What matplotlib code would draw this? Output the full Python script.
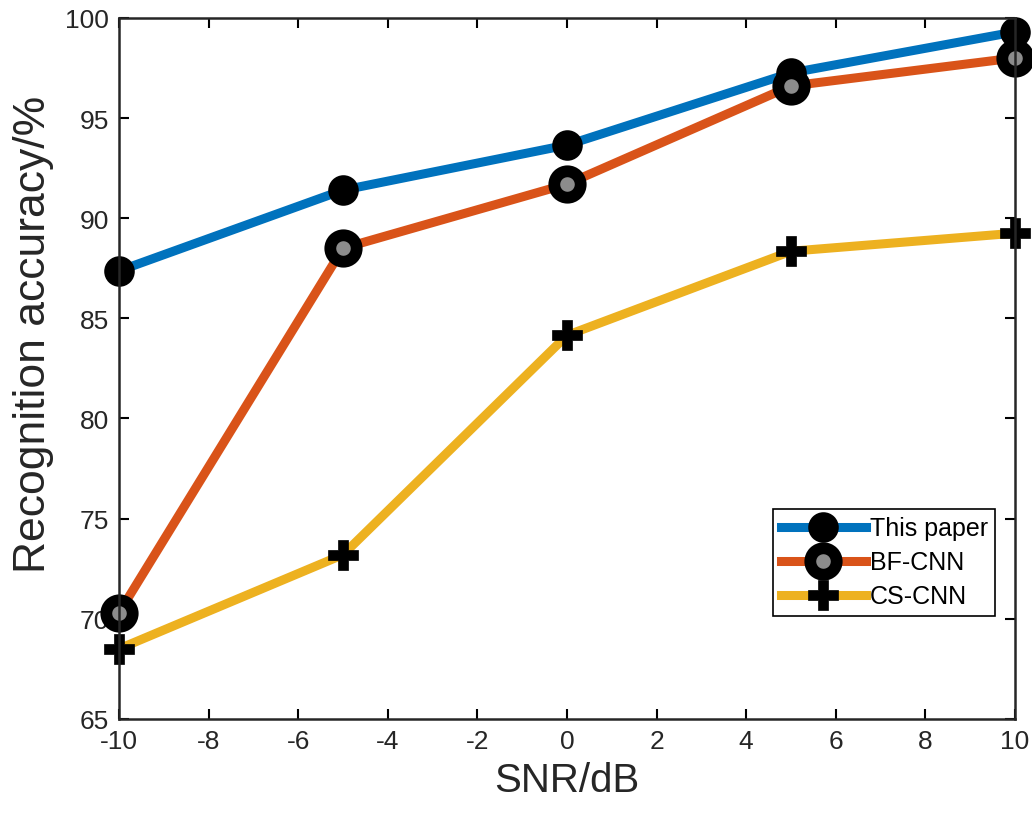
import numpy as np
import matplotlib.pyplot as plt

plt.rcParams['font.family'] = ['Liberation Sans', 'DejaVu Sans']
plt.rcParams['axes.unicode_minus'] = False

snr = [-10, -5, 0, 5, 10]
this_paper = [87.37, 91.4, 93.65, 97.25, 99.3]
bf_cnn = [70.3, 88.5, 91.7, 96.6, 98.0]
cs_cnn = [68.5, 73.2, 84.15, 88.35, 89.25]

x_ticks = [-10, -8, -6, -4, -2, 0, 2, 4, 6, 8, 10]
y_ticks = [65, 70, 75, 80, 85, 90, 95, 100]

fig = plt.figure(figsize=(10.32, 8.2), dpi=100)
ax = fig.add_axes([0.1153, 0.122, 0.8682, 0.855])

ax.plot(snr, this_paper, color='#0072BD', lw=6.5, marker='o', ms=17,
        mfc='black', mec='black', mew=5, label='This paper', clip_on=False)
ax.plot(snr, bf_cnn, color='#D95319', lw=6.5, marker='o', ms=19,
        mfc='#8c8c8c', mec='black', mew=8.5, label='BF-CNN', clip_on=False)
ax.plot(snr, cs_cnn, color='#EDB120', lw=6.5, marker='P', ms=22,
        mfc='black', mec='black', mew=0.5, label='CS-CNN', clip_on=False)

ax.set_xlim(-10, 10)
ax.set_ylim(65, 100)
ax.set_xticks(x_ticks)
ax.set_yticks(y_ticks)
ax.tick_params(direction='in', length=7, width=1.5, top=True, right=True,
               labelsize=19, labelcolor='#262626', pad=7)
for s in ax.spines.values():
    s.set_linewidth(1.8)
    s.set_color('#262626')

ax.set_xlabel('SNR/dB', fontsize=29, color='#262626', labelpad=6)
ax.set_ylabel('Recognition accuracy/%', fontsize=32, color='#262626')
ax.yaxis.set_label_coords(-0.072, 0.55)

leg = ax.legend(loc='lower right', bbox_to_anchor=(0.978, 0.147), fontsize=18,
                handlelength=3.4, fancybox=False, edgecolor='black',
                framealpha=1, borderpad=0.3, labelspacing=0.4,
                handletextpad=0.15, borderaxespad=0)
leg.get_frame().set_linewidth(1.2)

fig.savefig('out.png', dpi=100)
